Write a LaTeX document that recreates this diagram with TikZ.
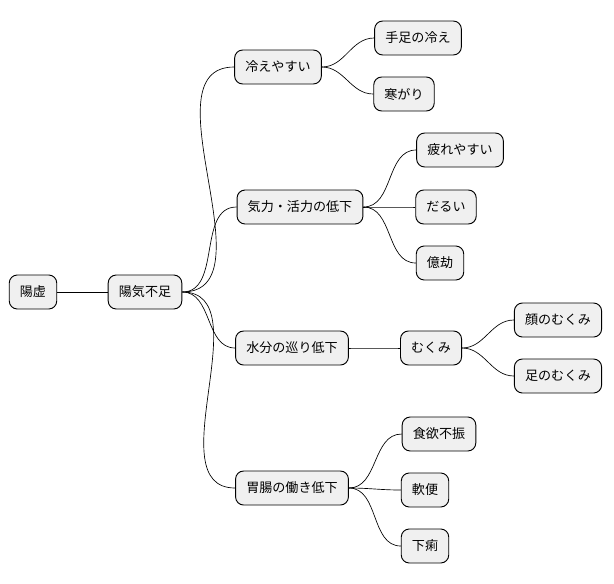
\documentclass[tikz,border=0pt]{standalone}
\usepackage{fontspec}
\newfontfamily\cjk{Noto Sans CJK JP}
\tikzset{
  topic/.style={draw=black,fill=gray!12,rounded corners=6pt,font=\cjk\fontsize{9.8pt}{11pt}\selectfont,
    minimum height=25.5pt,inner xsep=8pt,line width=0.7pt},
  link/.style={line width=0.5pt}
}
\begin{document}
\begin{tikzpicture}[x=0.75pt,y=-0.75pt]
\useasboundingbox (0,0) rectangle (614,583);

\node[topic] (root) at (33,292) {陽虚};
\node[topic] (yang) at (145,292) {陽気不足};

\node[topic] (cold) at (278,67) {冷えやすい};
\node[topic] (limbs) at (418,38) {手足の冷え};
\node[topic] (chill) at (404,94) {寒がり};

\node[topic] (energy) at (300,207) {気力・活力の低下};
\node[topic] (tired) at (460,150) {疲れやすい};
\node[topic] (dull) at (446,207) {だるい};
\node[topic] (lazy) at (440,263) {億劫};

\node[topic] (water) at (292,348) {水分の巡り低下};
\node[topic] (swell) at (431,348) {むくみ};
\node[topic] (face) at (558,320) {顔のむくみ};
\node[topic] (feet) at (558,376) {足のむくみ};

\node[topic] (gut) at (292,488) {胃腸の働き低下};
\node[topic] (appetite) at (439,434) {食欲不振};
\node[topic] (loose) at (425,490) {軟便};
\node[topic] (diarrhea) at (425,546) {下痢};

% connectors
\draw[link] (root.east) -- (yang.west);
\foreach \a/\b in {yang/cold,yang/energy,yang/water,yang/gut,
  cold/limbs,cold/chill,energy/tired,energy/dull,energy/lazy,
  water/swell,swell/face,swell/feet,gut/appetite,gut/loose,gut/diarrhea}
  \draw[link] (\a.east) to[out=0,in=180] (\b.west);
\end{tikzpicture}
\end{document}
